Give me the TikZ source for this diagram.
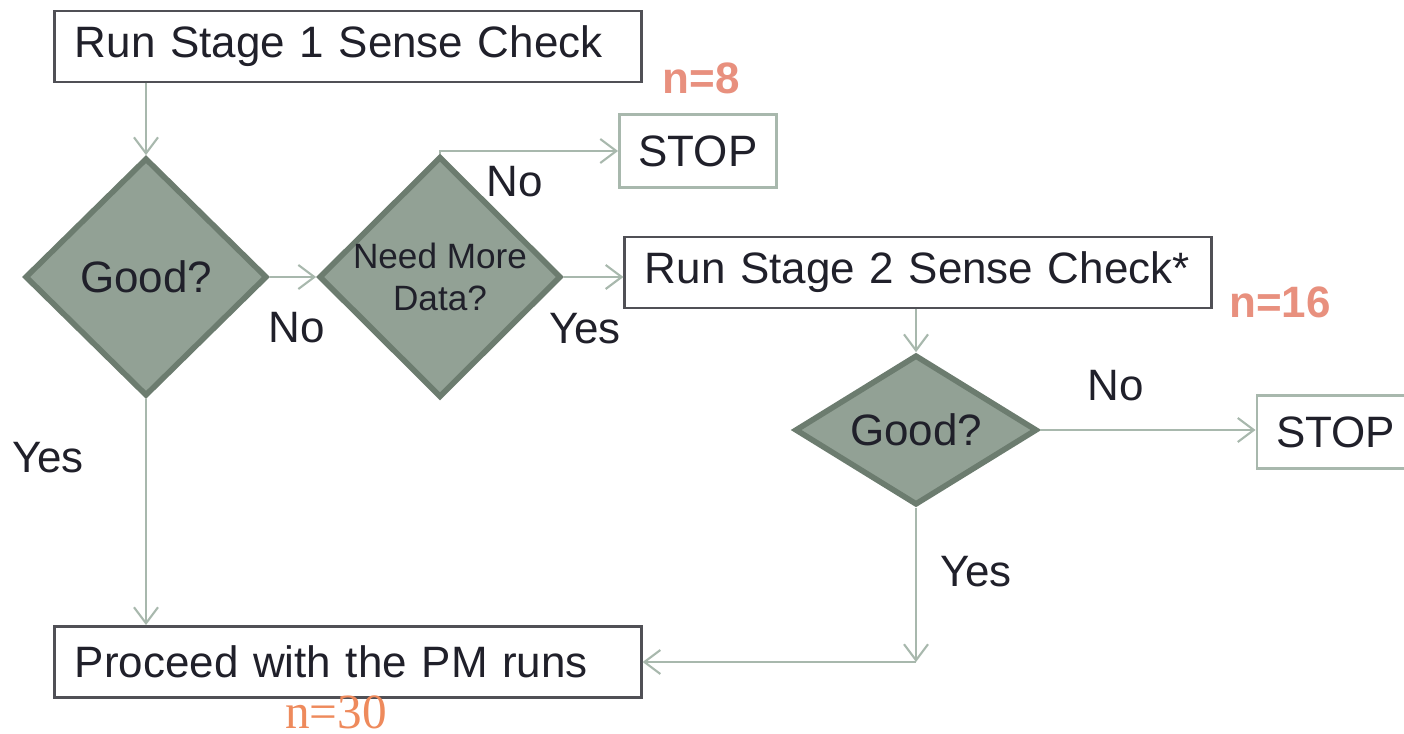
\documentclass[tikz,border=0pt]{standalone}
\usepackage{fontspec}
\setmainfont{Liberation Sans}
\newfontfamily\totalfont{Liberation Serif}
\usetikzlibrary{arrows.meta, shapes.geometric, positioning}
\definecolor{colDiam}{RGB}{146,161,149}
\definecolor{colDiamLine}{RGB}{108,124,111}
\definecolor{colLink}{RGB}{168,184,173}
\definecolor{colBox}{RGB}{80,80,86}
\definecolor{colTxt}{RGB}{32,32,42}
\definecolor{colCount}{RGB}{232,144,126}
\definecolor{colTotal}{RGB}{238,138,92}

\begin{document}
\begin{tikzpicture}[
  x=0.01cm, y=-0.01cm,
  >={Straight Barb[length=1.6mm, width=2.4mm]},
  stepbox/.style={draw=colBox, line width=0.8pt, minimum width=5.86cm,
                  minimum height=0.71cm, text width=5.46cm, inner xsep=0.2cm,
                  align=left, text=colTxt,
                  font=\fontsize{12.5pt}{15pt}\selectfont},
  stopbox/.style={draw=colLink, line width=0.8pt, minimum width=1.57cm,
                  minimum height=0.73cm, text=colTxt,
                  font=\fontsize{12.5pt}{15pt}\selectfont},
  question/.style={diamond, draw=colDiamLine, line width=1.6pt, fill=colDiam,
                   inner sep=0pt, minimum width=2.42cm, minimum height=#1,
                   text=colTxt, align=center,
                   font=\fontsize{12.5pt}{15pt}\selectfont},
  answer/.style={text=colTxt, font=\fontsize{12.5pt}{15pt}\selectfont},
  count/.style={text=colCount, font=\fontsize{12.5pt}{15pt}\selectfont\bfseries},
  link/.style={->, draw=colLink, line width=0.6pt}
]
\useasboundingbox (0,0) rectangle (1404,734);

% ---------- Stage 1 ----------
\node[stepbox] (stage1) at (348,46.5) {Run Stage 1 Sense Check};
\node[question=2.38cm] (good1) at (146,277) {Good?};
\node[question=2.36cm, font=\fontsize{10pt}{11.7pt}\selectfont]
  (more) at (440,277) {Need More\\Data?};
\node[stopbox] (stop1) at (698,151) {STOP};
\node[count] (n8) at (701,78) {n=8};

% ---------- Stage 2 ----------
\node[stepbox] (stage2) at (918,272.5) {Run Stage 2 Sense Check*};
\node[count] (n16) at (1280,302) {n=16};
\node[question=1.5cm, shape aspect=1.6] (good2) at (916,430) {Good?};
\node[stopbox] (stop2) at (1335.5,432) {STOP};

% ---------- Fin ----------
\node[stepbox] (proceed) at (348,662) {Proceed with the PM runs};
\node[text=colTotal, inner sep=0pt, font=\totalfont\fontsize{14pt}{16pt}\selectfont]
  (n30) at (336,712) {n=30};

% ---------- Fleches ----------
\draw[link] (good1.north |- stage1.south) -- (good1.north);
\draw[link] (good1.east) -- (more.west);
\draw[link] (more.north) |- (stop1.west);
\draw[link] (more.east) -- (more.east -| stage2.west);
\draw[link] (good2.north |- stage2.south) -- (good2.north);
\draw[link] (good2.east) -- (good2.east -| stop2.west);
\draw[link] (good1.south) -- (good1.south |- proceed.north);
\coordinate (turn) at (good2.south |- proceed.east);
\draw[link] (good2.south) -- (turn);
\draw[link] (turn) -- (proceed.east);

% ---------- Reponses ----------
\node[answer] (no1) at (515,182) {No};
\node[answer] (no2) at (297,328) {No};
\node[answer] (yes1) at (585,329) {Yes};
\node[answer] (yes2) at (48,458) {Yes};
\node[answer] (no3) at (1116,386) {No};
\node[answer] (yes3) at (976,572) {Yes};

\end{tikzpicture}
\end{document}
